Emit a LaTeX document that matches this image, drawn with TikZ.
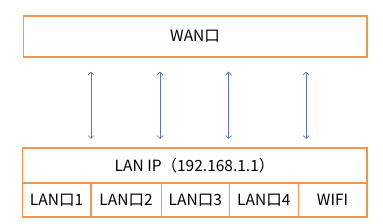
\documentclass[tikz,border=0pt]{standalone}
\usepackage{fontspec}
\setmainfont{Noto Sans CJK SC}
\usetikzlibrary{arrows.meta}
\definecolor{boxorange}{RGB}{240,150,80}
\definecolor{arrblue}{RGB}{90,120,175}
\tikzset{
  box/.style={draw=boxorange,line width=1.6pt,inner sep=0pt,font=\fontsize{15.5}{17}\selectfont},
  arr/.style={draw=arrblue,line width=0.7pt,{Straight Barb[length=3pt,width=6pt]}-{Straight Barb[length=3pt,width=6pt]},shorten <=13.5pt,shorten >=8pt}
}
\begin{document}
\begin{tikzpicture}[x=1pt,y=-1pt]
\useasboundingbox (0,0) rectangle (383,224);
\fill[white] (0,0) rectangle (383,224);
\node[box,minimum width=343.5pt,minimum height=41.5pt,anchor=north west] (wan) at (22.5,15) {WAN口};
\node[box,minimum width=344.5pt,minimum height=35.5pt,anchor=north west] (lanip) at (21.5,147) {LAN IP（192.168.1.1）};
\node[box,minimum width=68.5pt,minimum height=34pt,anchor=north west] (l1) at (21.5,182.5) {LAN口1};
\node[box,minimum width=70.5pt,minimum height=34pt,anchor=north west] (l2) at (90,182.5) {LAN口2};
\node[box,minimum width=68pt,minimum height=34pt,anchor=north west] (l3) at (160.5,182.5) {LAN口3};
\node[box,minimum width=69pt,minimum height=34pt,anchor=north west] (l4) at (228.5,182.5) {LAN口4};
\node[box,minimum width=68.5pt,minimum height=34pt,anchor=north west] (wifi) at (297.5,182.5) {WIFI};
\foreach \x in {91,160,228.5,306}{
  \draw[arr] (wan.south -| \x,0) -- (lanip.north -| \x,0);
}
\end{tikzpicture}
\end{document}
